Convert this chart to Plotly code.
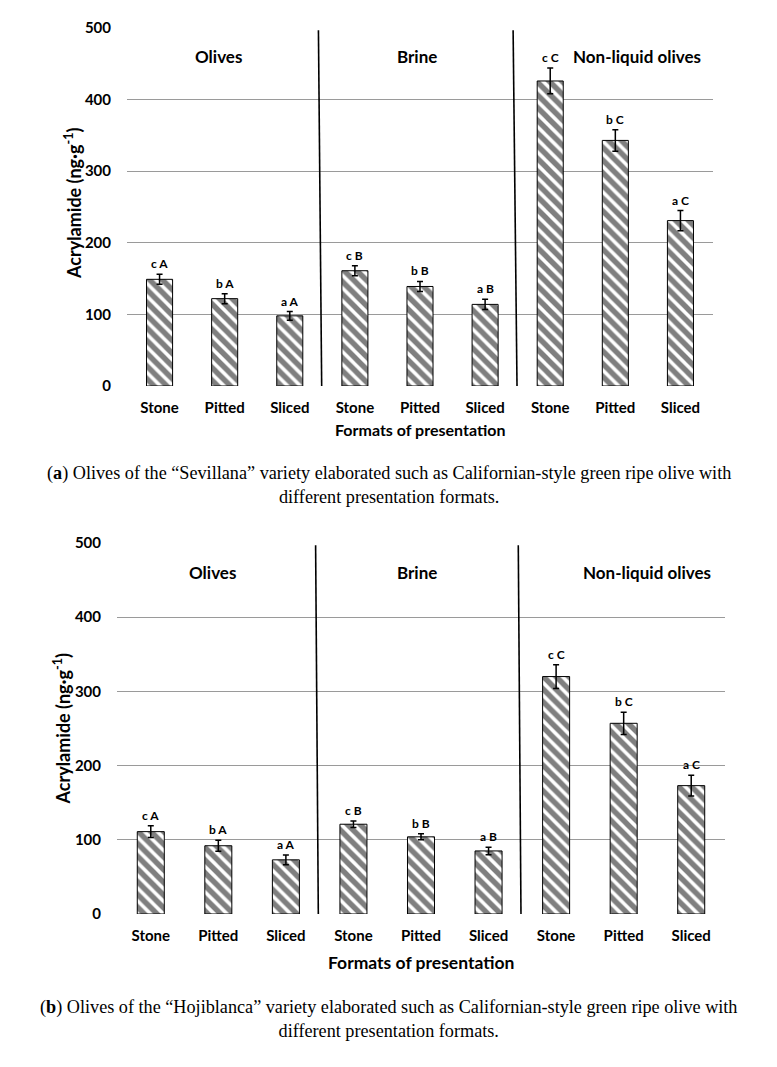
import plotly.graph_objects as go

categories = ["Stone", "Pitted", "Sliced", "Stone ", "Pitted ", "Sliced ", "Stone  ", "Pitted  ", "Sliced  "]
tick_labels = ["Stone", "Pitted", "Sliced", "Stone", "Pitted", "Sliced", "Stone", "Pitted", "Sliced"]
sections = ["Olives", "Brine", "Non-liquid olives"]
letters = ["c A", "b A", "a A", "c B", "b B", "a B", "c C", "b C", "a C"]

sevillana_values = [149, 122, 98, 161, 139, 114, 426, 343, 231]
sevillana_errors = [7, 7, 6, 7, 7, 7, 18, 15, 14]

hojiblanca_values = [111, 92, 73, 121, 104, 85, 320, 257, 173]
hojiblanca_errors = [8, 7.5, 6.5, 4.5, 4, 5, 16, 15, 14]

y_ticks = [0, 100, 200, 300, 400, 500]

x_title = "Formats of presentation"
y_title = "Acrylamide (ng\u00b7g<sup>-1</sup>)"

caption_a = ("(<b>a</b>) Olives of the \u201cSevillana\u201d variety elaborated such as Californian-style green ripe olive with"
             "<br>different presentation formats.")
caption_b = ("(<b>b</b>) Olives of the \u201cHojiblanca\u201d variety elaborated such as Californian-style green ripe olive with"
             "<br>different presentation formats.")

W, H = 777, 1067
FONT = "Lato"

fig = go.Figure()

panels = [
    dict(vals=sevillana_values, errs=sevillana_errors, xa="x", ya="y",
         xdom=[127 / W, 713 / W], ydom=[1 - 386 / H, 1 - 28 / H],
         sec_x=[0.91, 3.95, 7.33], seps=[(2.44, 2.49), (5.43, 5.49)],
         xtitle_y=429, xtitle_size=16, ytitle_x=73, ytitle_dy=-4,
         caption=caption_a, cap_y=485),
    dict(vals=hojiblanca_values, errs=hojiblanca_errors, xa="x2", ya="y2",
         xdom=[117 / W, 725 / W], ydom=[1 - 914 / H, 1 - 543 / H],
         sec_x=[0.92, 3.94, 7.34], seps=[(2.44, 2.48), (5.44, 5.48)],
         xtitle_y=962, xtitle_size=17.5, ytitle_x=62, ytitle_dy=0,
         caption=caption_b, cap_y=1019),
]

for i, p in enumerate(panels):
    fig.add_trace(go.Bar(
        x=categories, y=p["vals"], xaxis=p["xa"], yaxis=p["ya"],
        width=0.4,
        marker=dict(color="white", line=dict(color="black", width=1),
                    pattern=dict(shape="\\", fgcolor="black", bgcolor="white",
                                 size=9, solidity=0.6)),
        error_y=dict(type="data", array=p["errs"], color="black",
                     thickness=1.5, width=3),
        showlegend=False, hoverinfo="skip",
    ))
    for c, v, e, t in zip(categories, p["vals"], p["errs"], letters):
        fig.add_annotation(x=c, y=v + e, xref=p["xa"], yref=p["ya"], text=t,
                           showarrow=False, yanchor="bottom", yshift=1,
                           font=dict(family=FONT, size=12, color="black", weight="bold"))
    for sx, s in zip(p["sec_x"], sections):
        fig.add_annotation(x=sx, y=460, xref=p["xa"], yref=p["ya"], text=s,
                           showarrow=False, yanchor="middle",
                           font=dict(family=FONT, size=17, color="black", weight="bold"))
    for top_x, bot_x in p["seps"]:
        fig.add_shape(type="line", x0=top_x, y0=497, x1=bot_x, y1=0,
                      xref=p["xa"], yref=p["ya"], line=dict(color="black", width=1.6))
    xc = (p["xdom"][0] + p["xdom"][1]) / 2
    fig.add_annotation(x=xc, y=1 - p["xtitle_y"] / H, xref="paper", yref="paper",
                       text=x_title, showarrow=False, xanchor="center", yanchor="middle",
                       font=dict(family=FONT, size=p["xtitle_size"], color="black", weight="bold"))
    yc = (p["ydom"][0] + p["ydom"][1]) / 2
    fig.add_annotation(x=p["ytitle_x"] / W, y=yc, xref="paper", yref="paper",
                       text=y_title, showarrow=False, textangle=-90,
                       xanchor="center", yanchor="middle", yshift=-p["ytitle_dy"],
                       font=dict(family=FONT, size=18, color="black", weight="bold"))
    fig.add_annotation(x=0.5, y=1 - p["cap_y"] / H, xref="paper", yref="paper",
                       text=p["caption"], showarrow=False, align="center",
                       xanchor="center", yanchor="middle",
                       font=dict(family="Liberation Serif", size=18.2, color="black"))

axis_common_x = dict(
    type="category", tickvals=categories, ticktext=tick_labels,
    showgrid=False, zeroline=False, showline=False, ticks="", automargin=False,
    tickfont=dict(family=FONT, size=15, color="black", weight="bold"),
    ticklabelstandoff=11, range=[-0.5, 8.5],
)
axis_common_y = dict(
    range=[0, 500], tickvals=y_ticks, showgrid=True, gridcolor="#9a9a9a", gridwidth=1,
    zeroline=False, showline=False, ticks="", automargin=False,
    tickfont=dict(family=FONT, size=15, color="black", weight="bold"),
    ticklabelstandoff=15,
)

fig.update_layout(
    width=W, height=H, margin=dict(l=0, r=0, t=0, b=0, pad=0, autoexpand=False),
    paper_bgcolor="white", plot_bgcolor="white",
    xaxis=dict(axis_common_x, domain=panels[0]["xdom"], anchor="y"),
    yaxis=dict(axis_common_y, domain=panels[0]["ydom"], anchor="x"),
    xaxis2=dict(axis_common_x, domain=panels[1]["xdom"], anchor="y2"),
    yaxis2=dict(axis_common_y, domain=panels[1]["ydom"], anchor="x2"),
)

fig.write_html("out.html", config={"displayModeBar": False},
               post_script="document.body.style.margin='0';")
